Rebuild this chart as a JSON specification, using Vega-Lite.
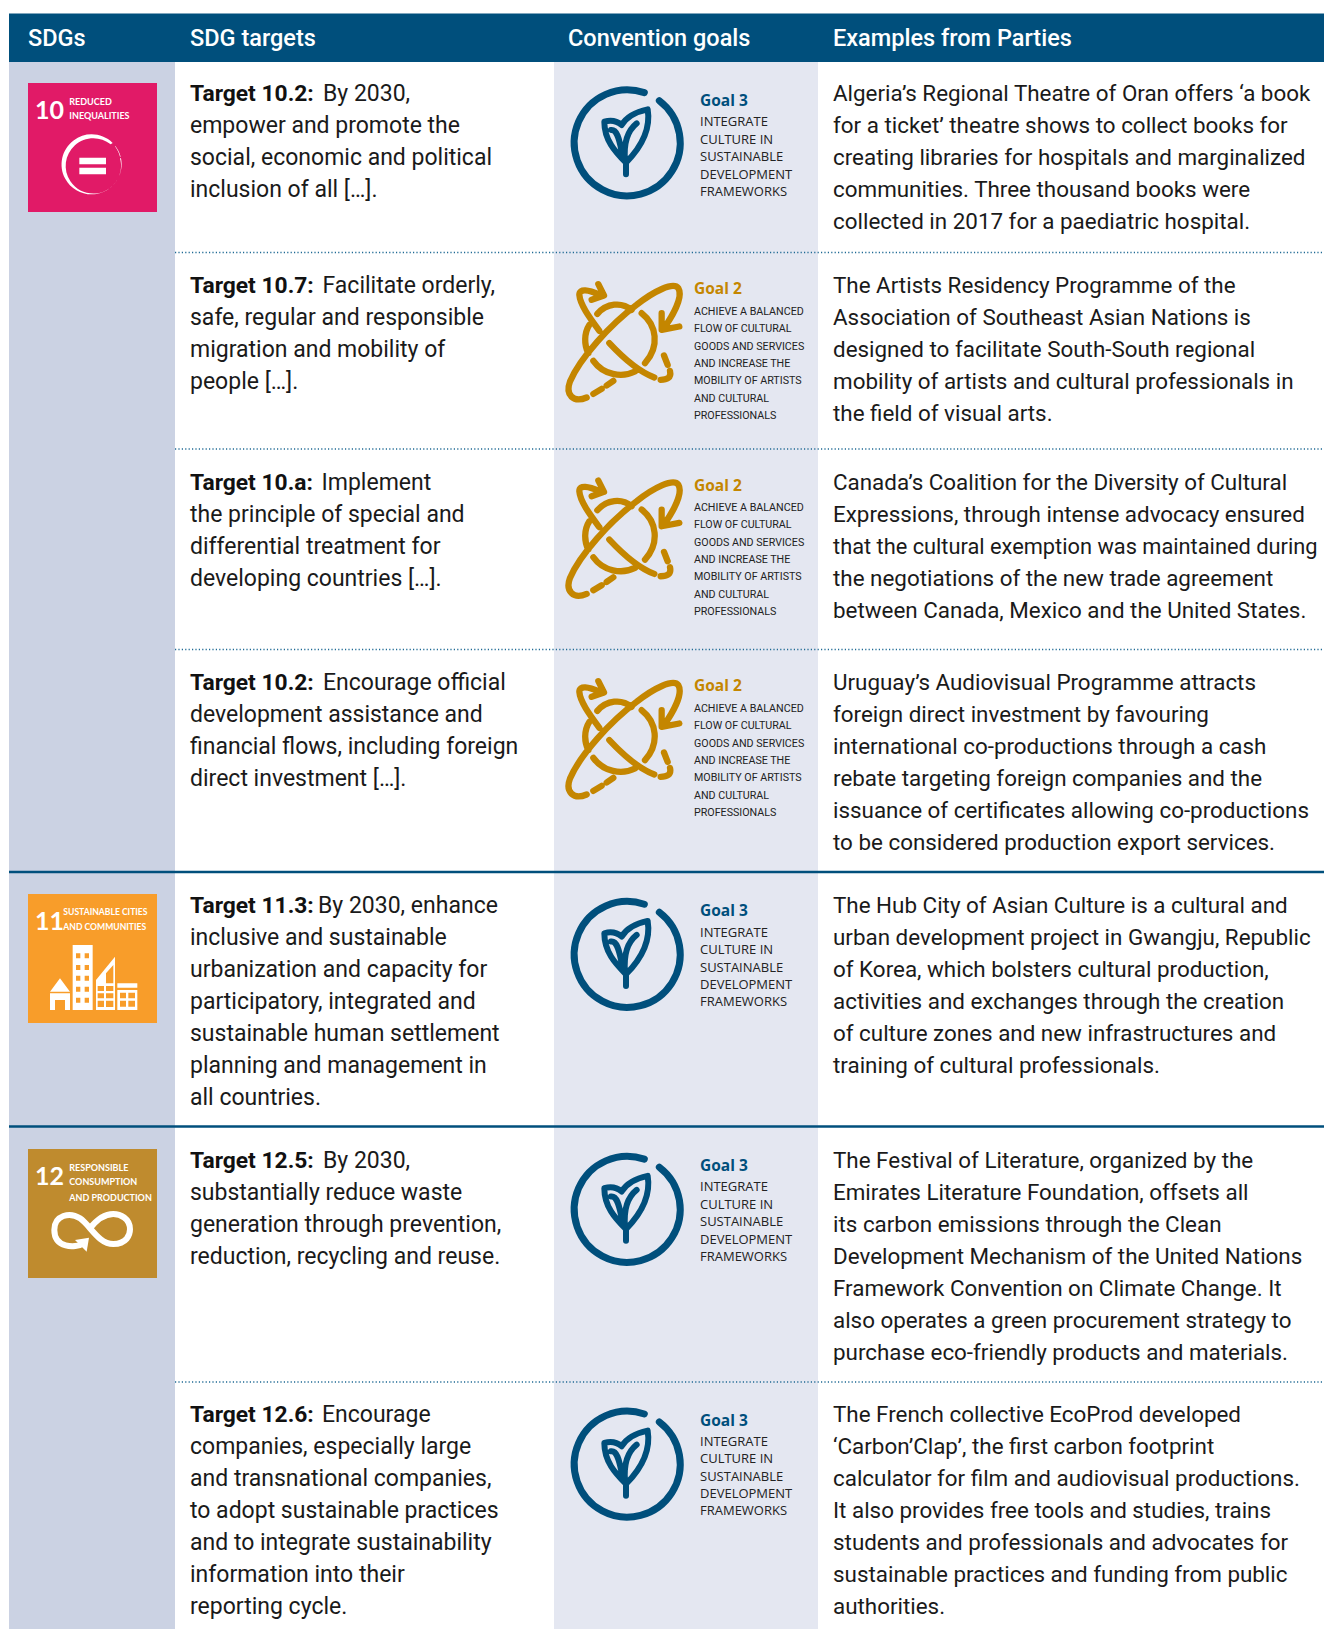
{"$schema":"https://vega.github.io/schema/vega-lite/v6.json","width":1324,"height":1629,"padding":0,"autosize":{"type":"none"},"background":"#ffffff","config":{"view":{"stroke":null}},
"datasets":{
"panels":[{"part":"SDG column","x":9,"x2":175,"y":62,"y2":1629},{"part":"Goal column","x":554,"x2":818,"y":62,"y2":1629},{"part":"Header","x":9,"x2":1324,"y":13.5,"y2":62},{"part":"SDG 10","x":28,"x2":157,"y":83,"y2":212},{"part":"SDG 11","x":28,"x2":157,"y":894,"y2":1023},{"part":"SDG 12","x":28,"x2":157,"y":1149,"y2":1278}],
"rules":[{"kind":"dotted","x":175,"x2":1324,"y":252.5},{"kind":"dotted","x":175,"x2":1324,"y":449},{"kind":"dotted","x":175,"x2":1324,"y":649.5},{"kind":"dotted","x":175,"x2":1324,"y":1382},{"kind":"solid","x":9,"x2":1324,"y":872},{"kind":"solid","x":9,"x2":1324,"y":1126.5}],
"icons":[{"icon":"goal3","x":565,"y":80},{"icon":"goal3","x":565,"y":891.6},{"icon":"goal3","x":565,"y":1146.5},{"icon":"goal3","x":565,"y":1401.3},{"icon":"goal2","x":560,"y":271.5},{"icon":"goal2","x":560,"y":467.9},{"icon":"goal2","x":560,"y":668.5},{"icon":"sdg10","x":20,"y":75},{"icon":"sdg11","x":20,"y":885},{"icon":"sdg12","x":20,"y":1140}],
"text":[
{"style":"header","x":28,"y":46,"text":"SDGs"},{"style":"header","x":190,"y":46,"text":"SDG targets"},{"style":"header","x":568,"y":46,"text":"Convention goals"},{"style":"header","x":833,"y":46,"text":"Examples from Parties"},
{"style":"big","x":35,"y":119.3,"text":"10"},{"style":"small","x":69.3,"y":105,"text":"REDUCED"},{"style":"small","x":69.3,"y":119.3,"text":"INEQUALITIES"},
{"style":"big","x":35,"y":930,"text":"11"},{"style":"smaller","x":63.3,"y":915.3,"text":"SUSTAINABLE CITIES"},{"style":"smaller","x":63.3,"y":930,"text":"AND COMMUNITIES"},
{"style":"big","x":35,"y":1185,"text":"12"},{"style":"small","x":69.3,"y":1170.7,"text":"RESPONSIBLE"},{"style":"small","x":69.3,"y":1185,"text":"CONSUMPTION"},{"style":"small","x":69.3,"y":1201,"text":"AND PRODUCTION"},
{"style":"bold","x":190,"y":101.7,"text":"Target 10.2:"},{"style":"body","x":323,"y":101.7,"text":"By 2030,"},{"style":"body","x":190,"y":133.7,"text":"empower and promote the"},{"style":"body","x":190,"y":165.7,"text":"social, economic and political"},{"style":"body","x":190,"y":197.7,"text":"inclusion of all […]."},
{"style":"bold","x":190,"y":293,"text":"Target 10.7:"},{"style":"body","x":322.5,"y":293,"text":"Facilitate orderly,"},{"style":"body","x":190,"y":325,"text":"safe, regular and responsible"},{"style":"body","x":190,"y":357,"text":"migration and mobility of"},{"style":"body","x":190,"y":389,"text":"people […]."},
{"style":"bold","x":190,"y":490.4,"text":"Target 10.a:"},{"style":"body","x":321.5,"y":490.4,"text":"Implement"},{"style":"body","x":190,"y":522.4,"text":"the principle of special and"},{"style":"body","x":190,"y":554.4,"text":"differential treatment for"},{"style":"body","x":190,"y":586.4,"text":"developing countries […]."},
{"style":"bold","x":190,"y":690,"text":"Target 10.2:"},{"style":"body","x":323,"y":690,"text":"Encourage official"},{"style":"body","x":190,"y":722,"text":"development assistance and"},{"style":"body","x":190,"y":754,"text":"financial flows, including foreign"},{"style":"body","x":190,"y":786,"text":"direct investment […]."},
{"style":"bold","x":190,"y":913.4,"text":"Target 11.3:"},{"style":"body","x":318,"y":913.4,"text":"By 2030, enhance"},{"style":"body","x":190,"y":945.4,"text":"inclusive and sustainable"},{"style":"body","x":190,"y":977.4,"text":"urbanization and capacity for"},{"style":"body","x":190,"y":1009.4,"text":"participatory, integrated and"},{"style":"body","x":190,"y":1041.4,"text":"sustainable human settlement"},{"style":"body","x":190,"y":1073.4,"text":"planning and management in"},{"style":"body","x":190,"y":1105.4,"text":"all countries."},
{"style":"bold","x":190,"y":1168,"text":"Target 12.5:"},{"style":"body","x":323,"y":1168,"text":"By 2030,"},{"style":"body","x":190,"y":1200,"text":"substantially reduce waste"},{"style":"body","x":190,"y":1232,"text":"generation through prevention,"},{"style":"body","x":190,"y":1264,"text":"reduction, recycling and reuse."},
{"style":"bold","x":190,"y":1422.8,"text":"Target 12.6:"},{"style":"body","x":322,"y":1422.8,"text":"Encourage"},{"style":"body","x":190,"y":1454.8,"text":"companies, especially large"},{"style":"body","x":190,"y":1486.8,"text":"and transnational companies,"},{"style":"body","x":190,"y":1518.8,"text":"to adopt sustainable practices"},{"style":"body","x":190,"y":1550.8,"text":"and to integrate sustainability"},{"style":"body","x":190,"y":1582.8,"text":"information into their"},{"style":"body","x":190,"y":1614.8,"text":"reporting cycle."},
{"style":"body","x":833,"y":101.7,"text":"Algeria’s Regional Theatre of Oran offers ‘a book"},{"style":"body","x":833,"y":133.7,"text":"for a ticket’ theatre shows to collect books for"},{"style":"body","x":833,"y":165.7,"text":"creating libraries for hospitals and marginalized"},{"style":"body","x":833,"y":197.7,"text":"communities. Three thousand books were"},{"style":"body","x":833,"y":229.7,"text":"collected in 2017 for a paediatric hospital."},
{"style":"body","x":833,"y":293,"text":"The Artists Residency Programme of the"},{"style":"body","x":833,"y":325,"text":"Association of Southeast Asian Nations is"},{"style":"body","x":833,"y":357,"text":"designed to facilitate South-South regional"},{"style":"body","x":833,"y":389,"text":"mobility of artists and cultural professionals in"},{"style":"body","x":833,"y":421,"text":"the field of visual arts."},
{"style":"body","x":833,"y":490.4,"text":"Canada’s Coalition for the Diversity of Cultural"},{"style":"body","x":833,"y":522.4,"text":"Expressions, through intense advocacy ensured"},{"style":"tight","x":833,"y":554.4,"text":"that the cultural exemption was maintained during"},{"style":"body","x":833,"y":586.4,"text":"the negotiations of the new trade agreement"},{"style":"body","x":833,"y":618.4,"text":"between Canada, Mexico and the United States."},
{"style":"body","x":833,"y":690,"text":"Uruguay’s Audiovisual Programme attracts"},{"style":"body","x":833,"y":722,"text":"foreign direct investment by favouring"},{"style":"body","x":833,"y":754,"text":"international co-productions through a cash"},{"style":"body","x":833,"y":786,"text":"rebate targeting foreign companies and the"},{"style":"body","x":833,"y":818,"text":"issuance of certificates allowing co-productions"},{"style":"body","x":833,"y":850,"text":"to be considered production export services."},
{"style":"body","x":833,"y":913.4,"text":"The Hub City of Asian Culture is a cultural and"},{"style":"body","x":833,"y":945.4,"text":"urban development project in Gwangju, Republic"},{"style":"body","x":833,"y":977.4,"text":"of Korea, which bolsters cultural production,"},{"style":"body","x":833,"y":1009.4,"text":"activities and exchanges through the creation"},{"style":"body","x":833,"y":1041.4,"text":"of culture zones and new infrastructures and"},{"style":"body","x":833,"y":1073.4,"text":"training of cultural professionals."},
{"style":"body","x":833,"y":1168,"text":"The Festival of Literature, organized by the"},{"style":"body","x":833,"y":1200,"text":"Emirates Literature Foundation, offsets all"},{"style":"body","x":833,"y":1232,"text":"its carbon emissions through the Clean"},{"style":"body","x":833,"y":1264,"text":"Development Mechanism of the United Nations"},{"style":"body","x":833,"y":1296,"text":"Framework Convention on Climate Change. It"},{"style":"body","x":833,"y":1328,"text":"also operates a green procurement strategy to"},{"style":"body","x":833,"y":1360,"text":"purchase eco-friendly products and materials."},
{"style":"body","x":833,"y":1422.8,"text":"The French collective EcoProd developed"},{"style":"body","x":833,"y":1454.8,"text":"‘Carbon’Clap’, the first carbon footprint"},{"style":"body","x":833,"y":1486.8,"text":"calculator for film and audiovisual productions."},{"style":"body","x":833,"y":1518.8,"text":"It also provides free tools and studies, trains"},{"style":"body","x":833,"y":1550.8,"text":"students and professionals and advocates for"},{"style":"body","x":833,"y":1582.8,"text":"sustainable practices and funding from public"},{"style":"body","x":833,"y":1614.8,"text":"authorities."},
{"style":"goal3title","x":700,"y":106,"text":"Goal 3"},{"style":"goal3","x":700,"y":126.2,"text":"INTEGRATE"},{"style":"goal3","x":700,"y":143.5,"text":"CULTURE IN"},{"style":"goal3","x":700,"y":161,"text":"SUSTAINABLE"},{"style":"goal3","x":700,"y":178.5,"text":"DEVELOPMENT"},{"style":"goal3","x":700,"y":195.5,"text":"FRAMEWORKS"},
{"style":"goal3title","x":700,"y":915.6,"text":"Goal 3"},{"style":"goal3","x":700,"y":936.8,"text":"INTEGRATE"},{"style":"goal3","x":700,"y":954.1,"text":"CULTURE IN"},{"style":"goal3","x":700,"y":971.6,"text":"SUSTAINABLE"},{"style":"goal3","x":700,"y":989.1,"text":"DEVELOPMENT"},{"style":"goal3","x":700,"y":1006.1,"text":"FRAMEWORKS"},
{"style":"goal3title","x":700,"y":1171,"text":"Goal 3"},{"style":"goal3","x":700,"y":1191.2,"text":"INTEGRATE"},{"style":"goal3","x":700,"y":1208.5,"text":"CULTURE IN"},{"style":"goal3","x":700,"y":1226,"text":"SUSTAINABLE"},{"style":"goal3","x":700,"y":1243.5,"text":"DEVELOPMENT"},{"style":"goal3","x":700,"y":1260.5,"text":"FRAMEWORKS"},
{"style":"goal3title","x":700,"y":1425.8,"text":"Goal 3"},{"style":"goal3","x":700,"y":1446,"text":"INTEGRATE"},{"style":"goal3","x":700,"y":1463.3,"text":"CULTURE IN"},{"style":"goal3","x":700,"y":1480.8,"text":"SUSTAINABLE"},{"style":"goal3","x":700,"y":1498.3,"text":"DEVELOPMENT"},{"style":"goal3","x":700,"y":1515.3,"text":"FRAMEWORKS"},
{"style":"goal2title","x":694,"y":294.3,"text":"Goal 2"},{"style":"goal2","x":694,"y":315,"text":"ACHIEVE A BALANCED"},{"style":"goal2","x":694,"y":332,"text":"FLOW OF CULTURAL"},{"style":"goal2","x":694,"y":349.5,"text":"GOODS AND SERVICES"},{"style":"goal2","x":694,"y":366.5,"text":"AND INCREASE THE"},{"style":"goal2","x":694,"y":384,"text":"MOBILITY OF ARTISTS"},{"style":"goal2","x":694,"y":401.5,"text":"AND CULTURAL"},{"style":"goal2","x":694,"y":418.5,"text":"PROFESSIONALS"},
{"style":"goal2title","x":694,"y":490.7,"text":"Goal 2"},{"style":"goal2","x":694,"y":511.4,"text":"ACHIEVE A BALANCED"},{"style":"goal2","x":694,"y":528.4,"text":"FLOW OF CULTURAL"},{"style":"goal2","x":694,"y":545.9,"text":"GOODS AND SERVICES"},{"style":"goal2","x":694,"y":562.9,"text":"AND INCREASE THE"},{"style":"goal2","x":694,"y":580.4,"text":"MOBILITY OF ARTISTS"},{"style":"goal2","x":694,"y":597.9,"text":"AND CULTURAL"},{"style":"goal2","x":694,"y":614.9,"text":"PROFESSIONALS"},
{"style":"goal2title","x":694,"y":691.3,"text":"Goal 2"},{"style":"goal2","x":694,"y":712,"text":"ACHIEVE A BALANCED"},{"style":"goal2","x":694,"y":729,"text":"FLOW OF CULTURAL"},{"style":"goal2","x":694,"y":746.5,"text":"GOODS AND SERVICES"},{"style":"goal2","x":694,"y":763.5,"text":"AND INCREASE THE"},{"style":"goal2","x":694,"y":781,"text":"MOBILITY OF ARTISTS"},{"style":"goal2","x":694,"y":798.5,"text":"AND CULTURAL"},{"style":"goal2","x":694,"y":815.5,"text":"PROFESSIONALS"}
]},
"encoding":{"x":{"field":"x","type":"quantitative","scale":{"domain":[0,1324],"range":[0,1324]},"axis":null},"y":{"field":"y","type":"quantitative","scale":{"domain":[0,1629],"range":[0,1629]},"axis":null}},
"layer":[
{"data":{"name":"panels"},"mark":{"type":"rect"},"encoding":{"x2":{"field":"x2"},"y2":{"field":"y2"},"color":{"field":"part","type":"nominal","legend":null,"scale":{"domain":["SDG column","Goal column","Header","SDG 10","SDG 11","SDG 12"],"range":["#cbd2e3","#e4e7f1","#004f7c","#e11a67","#f89d2a","#bf8b2e"]}}}},
{"data":{"name":"rules"},"transform":[{"filter":"datum.kind==='dotted'"}],"mark":{"type":"rule","color":"#1f6a94","strokeWidth":1.5,"strokeDash":[1.2,2.2]},"encoding":{"x2":{"field":"x2"}}},
{"data":{"name":"rules"},"transform":[{"filter":"datum.kind==='solid'"}],"mark":{"type":"rule","color":"#004f7c","strokeWidth":2.5},"encoding":{"x2":{"field":"x2"}}},
{"data":{"name":"icons"},"transform":[{"filter":"datum.icon==='goal3'"}],"mark":{"type":"point","filled":false,"opacity":1,"size":0.4444,"stroke":"#004f7c","strokeWidth":7,"strokeCap":"round","shape":"M283,62 A159,159 0 1 1 238,38"}},
{"data":{"name":"icons"},"transform":[{"filter":"datum.icon==='goal3'"}],"mark":{"type":"point","filled":false,"opacity":1,"size":0.4444,"stroke":"#004f7c","strokeWidth":6,"strokeCap":"round","strokeJoin":"round","shape":"M183,248 C150,215 118,180 118,125 C135,120 155,122 170,135 C185,110 215,95 248,88 C255,130 245,185 183,248 Z M215,130 C190,150 175,180 180,240 M138,150 C155,148 162,170 172,225 M183,245 L183,283"}},
{"data":{"name":"icons"},"transform":[{"filter":"datum.icon==='goal2'"}],"mark":{"type":"point","filled":false,"opacity":1,"size":0.4444,"stroke":"#c48600","strokeWidth":6.3,"strokeCap":"round","strokeJoin":"round","shape":"M80,378 C40,395 15,370 30,330 C60,260 150,160 230,100 C280,60 340,30 355,50 C370,75 340,130 312,170 M305,125 L305,175 L358,165 M118,178 C90,140 60,100 58,70 C58,50 85,55 120,70 M115,38 L132,72 L95,85 M112,127 C140,95 185,90 215,115 M88,160 C72,185 72,220 85,245 M100,268 C130,310 185,320 225,300 M245,125 C290,160 300,225 255,275 M148,215 C190,260 235,300 283,318 M100,367 L125,352 M140,342 L160,328 M312,252 L323,280 M330,298 C335,320 320,325 302,325"}},
{"data":{"name":"icons"},"transform":[{"filter":"datum.icon==='sdg10'"}],"mark":{"type":"point","filled":true,"opacity":1,"size":0.4444,"fill":"#ffffff","strokeWidth":0,"shape":"M278,204 A90,90 0 1 0 303,250 L300,250 A83,83 0 1 1 272,208 Z M302,245 A90,90 0 0 0 286,213 L285,214 A89,89 0 0 1 300,245 Z M178,248 H258 V268 H178 Z M178,278 H258 V298 H178 Z"}},
{"data":{"name":"icons"},"transform":[{"filter":"datum.icon==='sdg11'"}],"mark":{"type":"point","filled":true,"opacity":1,"size":0.4444,"fill":"#ffffff","strokeWidth":0,"shape":"M120,280 L150,320 H90 Z M90,325 H150 V375 H135 V345 H105 V375 H90 Z M158,180 H218 V375 H158 Z M168,205 V220 H181 V205 Z M194,205 V220 H207 V205 Z M168,240 V255 H181 V240 Z M194,240 V255 H207 V240 Z M168,272 V287 H181 V272 Z M194,272 V287 H207 V272 Z M168,305 V320 H181 V305 Z M194,305 V320 H207 V305 Z M168,338 V353 H181 V338 Z M194,338 V353 H207 V338 Z M228,375 V285 L285,215 V375 Z M233,303 V318 H252 V303 Z M258,303 V318 H280 V303 Z M233,325 V340 H252 V325 Z M258,325 V340 H280 V325 Z M233,347 V366 H252 V347 Z M258,347 V366 H280 V347 Z M258,265 V295 H280 V240 Z M292,295 H352 V308 H292 Z M292,315 H352 V375 H292 Z M300,323 V340 H318 V323 Z M325,323 V340 H345 V323 Z M300,347 V365 H318 V347 Z M325,347 V365 H345 V347 Z"}},
{"data":{"name":"icons"},"transform":[{"filter":"datum.icon==='sdg12'"}],"mark":{"type":"point","filled":false,"opacity":1,"size":0.4444,"stroke":"#ffffff","strokeWidth":6,"shape":"M190,310 C165,325 103,325 103,270 C103,225 150,215 180,235 C210,255 235,312 280,312 C320,312 330,285 330,268 C330,235 300,222 280,222 C250,222 225,245 207,268"}},
{"data":{"name":"icons"},"transform":[{"filter":"datum.icon==='sdg12'"}],"mark":{"type":"point","filled":true,"opacity":1,"size":0.4444,"fill":"#ffffff","strokeWidth":0,"shape":"M207,293 L200,335 L165,300 Z"}},
{"data":{"name":"text"},"transform":[{"filter":"datum.style==='header'"}],"mark":{"type":"text","align":"left","baseline":"alphabetic","font":"Roboto","fontSize":23.5,"fontWeight":500,"fill":"#ffffff"},"encoding":{"text":{"field":"text"}}},
{"data":{"name":"text"},"transform":[{"filter":"datum.style==='body' && datum.x<800"}],"mark":{"type":"text","align":"left","baseline":"alphabetic","font":"Roboto","fontSize":23,"dy":-0.5,"fill":"#1a1a1a"},"encoding":{"text":{"field":"text"}}},
{"data":{"name":"text"},"transform":[{"filter":"datum.style==='body' && datum.x>800"}],"mark":{"type":"text","align":"left","baseline":"alphabetic","font":"Roboto","fontSize":22.4,"dy":-0.5,"fill":"#1a1a1a"},"encoding":{"text":{"field":"text"}}},
{"data":{"name":"text"},"transform":[{"filter":"datum.style==='tight'"}],"mark":{"type":"text","align":"left","baseline":"alphabetic","font":"Roboto","fontSize":21.8,"dy":-0.5,"fill":"#1a1a1a"},"encoding":{"text":{"field":"text"}}},
{"data":{"name":"text"},"transform":[{"filter":"datum.style==='bold'"}],"mark":{"type":"text","align":"left","baseline":"alphabetic","font":"Roboto","fontSize":22.8,"dy":-0.5,"fontWeight":"bold","fill":"#111111"},"encoding":{"text":{"field":"text"}}},
{"data":{"name":"text"},"transform":[{"filter":"datum.style==='big'"}],"mark":{"type":"text","align":"left","baseline":"alphabetic","font":"Lato","fontSize":25,"fontWeight":"bold","fill":"#ffffff"},"encoding":{"text":{"field":"text"}}},
{"data":{"name":"text"},"transform":[{"filter":"datum.style==='small'"}],"mark":{"type":"text","align":"left","baseline":"alphabetic","font":"Lato","fontSize":9,"fontWeight":"bold","fill":"#ffffff"},"encoding":{"text":{"field":"text"}}},
{"data":{"name":"text"},"transform":[{"filter":"datum.style==='smaller'"}],"mark":{"type":"text","align":"left","baseline":"alphabetic","font":"Lato","fontSize":8.6,"fontWeight":"bold","fill":"#ffffff"},"encoding":{"text":{"field":"text"}}},
{"data":{"name":"text"},"transform":[{"filter":"datum.style==='goal3title'"}],"mark":{"type":"text","align":"left","baseline":"alphabetic","font":"Open Sans","fontSize":15.5,"fontWeight":"bold","fill":"#004f7c"},"encoding":{"text":{"field":"text"}}},
{"data":{"name":"text"},"transform":[{"filter":"datum.style==='goal2title'"}],"mark":{"type":"text","align":"left","baseline":"alphabetic","font":"Open Sans","fontSize":15.5,"fontWeight":"bold","fill":"#c48600"},"encoding":{"text":{"field":"text"}}},
{"data":{"name":"text"},"transform":[{"filter":"datum.style==='goal3'"}],"mark":{"type":"text","align":"left","baseline":"alphabetic","font":"Open Sans","fontSize":13,"fill":"#222222"},"encoding":{"text":{"field":"text"}}},
{"data":{"name":"text"},"transform":[{"filter":"datum.style==='goal2'"}],"mark":{"type":"text","align":"left","baseline":"alphabetic","font":"Roboto","fontSize":10.7,"fill":"#222222"},"encoding":{"text":{"field":"text"}}}
]}
